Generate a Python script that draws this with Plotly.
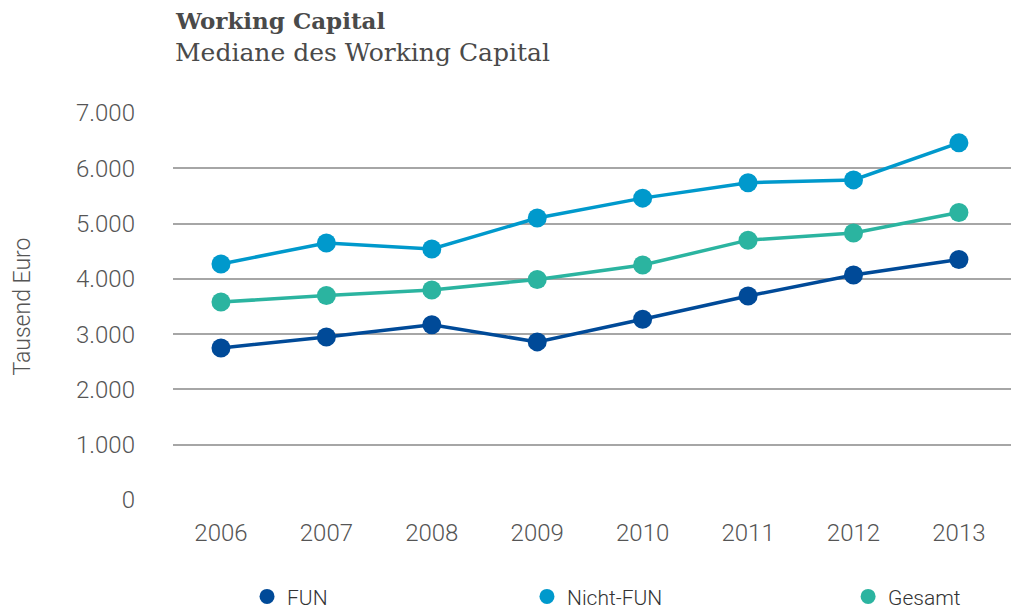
import plotly.graph_objects as go

years = ["2006", "2007", "2008", "2009", "2010", "2011", "2012", "2013"]
fun = [2750, 2950, 3170, 2860, 3270, 3690, 4070, 4350]
nicht_fun = [4270, 4650, 4540, 5100, 5460, 5740, 5790, 6460]
gesamt = [3580, 3700, 3800, 3990, 4250, 4700, 4830, 5200]
y_ticks = [0, 1000, 2000, 3000, 4000, 5000, 6000, 7000]
y_tick_labels = ["0", "1.000", "2.000", "3.000", "4.000", "5.000", "6.000", "7.000"]

series = [
    ("FUN", fun, "#004a98", "legend"),
    ("Nicht-FUN", nicht_fun, "#0099cc", "legend2"),
    ("Gesamt", gesamt, "#2bb4a0", "legend3"),
]

fig = go.Figure()
for name, vals, color, leg in series:
    fig.add_trace(go.Scatter(x=years, y=vals, mode="lines+markers", name=name,
                             line=dict(color=color, width=3.5),
                             marker=dict(color=color, size=19),
                             showlegend=False))
    # legend entry shows only the dot
    fig.add_trace(go.Scatter(x=[None], y=[None], mode="markers", name=name,
                             marker=dict(color=color, size=15), legend=leg))

tick_font = dict(family="Roboto", size=24, color="#555555", weight=300)
legend_font = dict(family="Roboto", size=21, color="#333333", weight=300)

def legend_at(x):
    return dict(x=x, y=-0.25, xanchor="left", yanchor="middle", orientation="h",
                font=legend_font, bgcolor="rgba(0,0,0,0)")

# page adds an 8px body margin, so the figure is drawn 8px right and down
fig.update_layout(
    width=1019, height=630,
    margin=dict(l=165, r=8, t=105, b=138),
    plot_bgcolor="white", paper_bgcolor="white",
    showlegend=True,
    legend=legend_at(0.0875),
    legend2=legend_at(0.4184),
    legend3=legend_at(0.798),
    xaxis=dict(type="category", range=[-0.455, 7.57], showgrid=False, zeroline=False,
               showline=False, ticks="", tickfont=tick_font, ticklabelstandoff=16,
               fixedrange=True),
    yaxis=dict(range=[0, 7000], tickvals=y_ticks, ticktext=y_tick_labels,
               showgrid=True, gridcolor="#a6a6a6", gridwidth=1.5,
               zeroline=False, showline=False, ticks="", tickfont=tick_font,
               ticklabelstandoff=37),
    annotations=[
        dict(text="<b>Working Capital</b>", xref="paper", yref="paper", x=0, y=1,
             xanchor="left", yanchor="middle", yshift=93, showarrow=False,
             font=dict(family="DejaVu Serif", size=23, color="#4a4a4a")),
        dict(text="Mediane des Working Capital", xref="paper", yref="paper", x=0, y=1,
             xanchor="left", yanchor="middle", yshift=61, showarrow=False,
             font=dict(family="DejaVu Serif", size=25, color="#4a4a4a")),
        dict(text="Tausend Euro", xref="paper", yref="paper", x=0, y=0.5,
             xanchor="center", yanchor="middle", xshift=-151, showarrow=False,
             textangle=-90, font=dict(family="Roboto", size=23, color="#555555", weight=300)),
    ],
)

fig.write_html("out.html")
